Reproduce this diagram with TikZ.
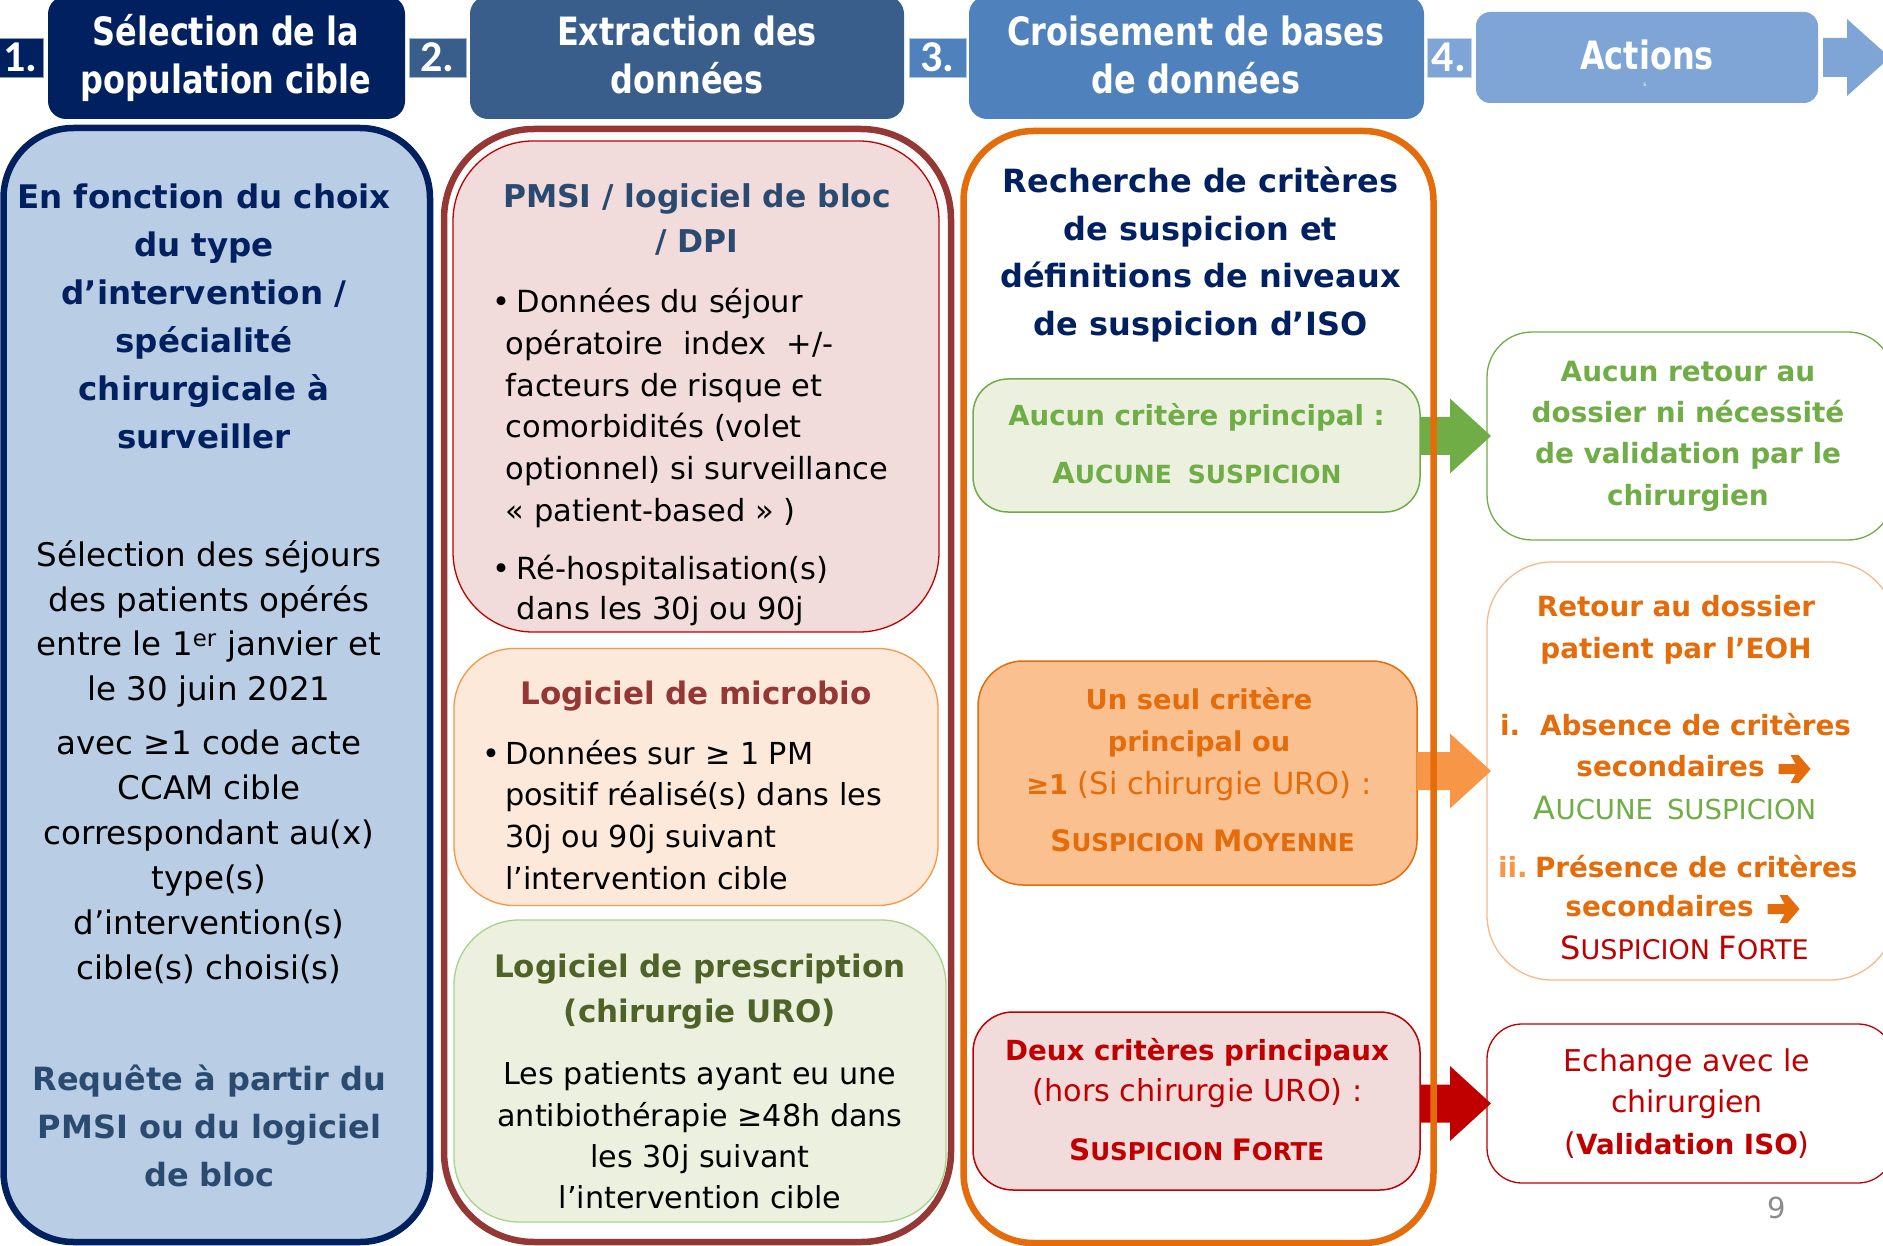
\documentclass[tikz,border=0pt]{standalone}
\usepackage{fontspec}
\setmainfont{DejaVu Sans}
\newfontfamily\hdrfont{DejaVu Sans}[FakeStretch=0.82]
\newfontfamily\numfont{Carlito}
\usetikzlibrary{calc}
\definecolor{navy}{HTML}{002060}
\definecolor{hdrtwo}{HTML}{395E8C}
\definecolor{hdrthree}{HTML}{4F81BD}
\definecolor{hdrfour}{HTML}{7EA5D5}
\definecolor{cfill}{HTML}{B9CDE5}
\definecolor{slate}{HTML}{2A4A70}
\definecolor{brick}{HTML}{953735}
\definecolor{pinkfill}{HTML}{F2DCDB}
\definecolor{redc}{HTML}{C00000}
\definecolor{peachfill}{HTML}{FDE9D9}
\definecolor{peachline}{HTML}{F79646}
\definecolor{greenfill}{HTML}{EBF1DE}
\definecolor{lgreenline}{HTML}{A9D18E}
\definecolor{olive}{HTML}{4F6228}
\definecolor{orangec}{HTML}{E46C0A}
\definecolor{greenc}{HTML}{70AD47}
\definecolor{orangefill}{HTML}{FAC090}
\definecolor{orangearr}{HTML}{F79646}
\definecolor{orangeline}{HTML}{F8B98A}
\definecolor{gray9}{HTML}{8C8C8C}
\newcommand\fsz[2]{\fontsize{#1}{#2}\selectfont}
\newcommand\mysc[2]{{\fontsize{#1}{#1}\selectfont #2}}
\newcommand\blockarrow[3]{\fill[#1] ($(#2.east|-#3.west)+(0,-19)$) -- ($(#3.west)+(-37,-19)$) -- ($(#3.west)+(-37,-37.5)$) -- ($(#3.west)+(4,0)$) -- ($(#3.west)+(-37,37.5)$) -- ($(#3.west)+(-37,19)$) -- ($(#2.east|-#3.west)+(0,19)$) -- cycle;}
\newcommand\textarrow[1]{\fill[orangec] ($(#1.east)+(14,-2)$) -- ($(#1.east)+(31,-2)$) -- ($(#1.east)+(26,-11)$) -- ($(#1.east)+(34,-11)$) -- ($(#1.east)+(46,3)$) -- ($(#1.east)+(34,17)$) -- ($(#1.east)+(26,17)$) -- ($(#1.east)+(31,8)$) -- ($(#1.east)+(14,8)$) -- cycle;}
\tikzset{
  bs/.style={inner sep=0pt, outer sep=0pt},
  sz/.style 2 args={minimum width=#1pt, minimum height=#2pt},
  hdr/.style={bs, fill=#1, rounded corners=18pt},
  numbox/.style={bs, fill=#1, draw=white!55!#1, line width=0.8pt, text=white, font=\numfont\bfseries\fsz{44}{44}},
  hdrtxt/.style={bs, align=center, text=white, font=\hdrfont\bfseries\fsz{39}{48}},
  colbox/.style={bs, line width=6.5pt, draw=#1},
  subbox/.style={bs, line width=1.3pt},
  txt/.style={bs, align=center},
  ltxt/.style={bs, align=left, anchor=west},
}
\begin{document}
\begin{tikzpicture}[x=1pt,y=-1pt]
\useasboundingbox (0,0) rectangle (1883,1246);
\clip (0,0) rectangle (1883,1246);
% ---------- header band
\node[hdr=navy, sz={357}{123}] (h1) at (226.5,57.5) {};
\node[hdr=hdrtwo, sz={434}{123}] (h2) at (687,57.5) {};
\node[hdr=hdrthree, sz={455}{123}] (h3) at (1196.5,57.5) {};
\node[hdr=hdrfour, sz={342}{91}, rounded corners=14pt] (h4) at (1647,57.5) {};
\node[numbox=navy, sz={45}{39}] (n1) at (20.5,57.5) {1.};
\node[numbox=hdrtwo, sz={57}{39}] (n2) at (437.5,57.5) {2.};
\node[numbox=hdrthree, sz={57}{39}] (n3) at (937.5,57.5) {3.};
\node[numbox=hdrfour, sz={44}{39}] (n4) at (1449,57.5) {4.};
\fill[hdrfour] ($(h4.east)+(5,-19.5)$) -- ($(h4.east)+(29,-19.5)$) -- ($(h4.east)+(29,-38.5)$) -- ($(h4.east)+(72,0)$) -- ($(h4.east)+(29,38.5)$) -- ($(h4.east)+(29,19.5)$) -- ($(h4.east)+(5,19.5)$) -- cycle;
\node[hdrtxt] (t1) at (226,57.5) {Sélection de la\\population cible};
\node[hdrtxt] (t2) at (687,54.5) {Extraction des\\données};
\node[hdrtxt] (t3) at (1196,54.5) {Croisement de bases\\de données};
\node[hdrtxt] (t4) at (1647,55) {Actions};
\node[bs, text=white, font=\fsz{6}{6}] (t4s) at (1645,85) {s};
% ---------- column 1
\node[colbox=navy, fill=cfill, rounded corners=70pt, sz={426.5}{1114}] (col1) at (216.75,685) {};
% ---------- column 2
\node[colbox=brick, fill=white, rounded corners=90pt, sz={507}{1113}] (col2) at (697.5,685.5) {};
\node[subbox, fill=pinkfill, draw=redc, rounded corners=80pt, sz={486}{491}] (pmsi) at (696,386.5) {};
\node[subbox, fill=peachfill, draw=peachline, rounded corners=60pt, sz={484}{257}] (micro) at (696,777) {};
\node[subbox, fill=greenfill, draw=lgreenline, rounded corners=65pt, sz={492}{302}] (presc) at (700,1071) {};
% ---------- column 3 boxes
\node[subbox, line width=1.5pt, fill=greenfill, draw=greenc, rounded corners=35pt, sz={447}{133}] (g3) at (1196.5,445.5) {};
\node[subbox, line width=1.5pt, fill=orangefill, draw=orangec, rounded corners=45pt, sz={439}{224}] (o3) at (1197.5,773) {};
\node[subbox, line width=1.5pt, fill=pinkfill, draw=redc, rounded corners=40pt, sz={447}{178}] (r3) at (1196.5,1101) {};
% ---------- column 4 boxes
\node[subbox, fill=white, draw=greenc, rounded corners=45pt, sz={406}{208}] (g4) at (1690,436) {};
\node[subbox, fill=white, draw=orangeline, rounded corners=65pt, sz={408}{418}] (o4) at (1691,771) {};
\node[subbox, fill=white, draw=redc, rounded corners=35pt, sz={406}{159}] (r4) at (1690,1103.5) {};
% ---------- block arrows
\blockarrow{greenc}{g3}{g4}
\blockarrow{orangearr}{o3}{o4}
\blockarrow{redc}{r3}{r4}
% ---------- column 3 frame (over the arrows)
\node[colbox=orangec, rounded corners=70pt, sz={470}{1112}] (col3) at (1198.5,687) {};
% ---------- column 1 texts
\node[txt, text=navy, font=\bfseries\fsz{32.5}{48}] (c1a) at (204,316) {En fonction du choix\\du type\\d’intervention /\\spécialité\\chirurgicale à\\surveiller};
\node[txt, font=\fsz{32.5}{44.7}] (c1b) at (209,624) {Sélection des séjours\\des patients opérés\\entre le 1\textsuperscript{er} janvier et\\le 30 juin 2021};
\node[txt, font=\fsz{32.5}{45}] (c1c) at (209,856.5) {avec ≥1 code acte\\CCAM cible\\correspondant au(x)\\type(s)\\d’intervention(s)\\cible(s) choisi(s)};
\node[txt, text=slate, font=\bfseries\fsz{32}{48}] (c1d) at (209.5,1126) {Requête à partir du\\PMSI ou du logiciel\\de bloc};
% ---------- column 2 texts
\node[txt, text=slate, font=\bfseries\fsz{31.4}{45}] (pmsit) at (697,220) {PMSI / logiciel de bloc\\/ DPI};
\node[ltxt, font=\fsz{30.5}{41.66}] (pmsib1) at (505.7,408) {\hspace*{11pt}\llap{\textbullet\hspace{6pt}}Données du séjour\\opératoire\hspace{20pt}index\hspace{20pt}+/-\\facteurs de risque et\\comorbidités (volet\\optionnel) si surveillance\\« patient-based » )};
\node[ltxt, font=\fsz{30.5}{40}] (pmsib2) at (516.7,590) {\llap{\textbullet\hspace{6pt}}Ré-hospitalisation(s)\\dans les 30j ou 90j};
\node[txt, text=brick, font=\bfseries\fsz{31}{40}] (microt) at (696,696) {Logiciel de microbio};
\node[ltxt, font=\fsz{30.3}{41.9}] (microb) at (505,815) {\llap{\textbullet\hspace{5pt}}Données sur ≥ 1 PM\\positif réalisé(s) dans les\\30j ou 90j suivant\\l’intervention cible};
\node[txt, text=olive, font=\bfseries\fsz{31}{45.5}] (presct) at (700,991.5) {Logiciel de prescription\\(chirurgie URO)};
\node[txt, font=\fsz{30.2}{41.2}] (prescb) at (700,1135.5) {Les patients ayant eu une\\antibiothérapie ≥48h dans\\les 30j suivant\\l’intervention cible};
% ---------- column 3 texts
\node[txt, text=navy, font=\bfseries\fsz{32}{47.7}] (c3t) at (1200.5,254.5) {Recherche de critères\\de suspicion et\\définitions de niveaux\\de suspicion d’ISO};
\node[txt, text=greenc, font=\bfseries\fsz{27.6}{30}] (g3a) at (1196.5,417) {Aucun critère principal :};
\node[txt, text=greenc, font=\bfseries] (g3b) at (1197,473) {\mysc{29}{A}\mysc{25}{UCUNE\hspace{16pt}SUSPICION}};
\node[txt, text=orangec, font=\fsz{30.5}{42.5}] (o3a) at (1199,744) {{\bfseries\fsz{27.3}{42.5}Un seul critère}\\{\bfseries\fsz{27.3}{42.5}principal ou}\\{\bfseries\fsz{27.3}{42.5}≥1} (Si chirurgie\hspace{10pt}URO) :};
\node[txt, text=orangec, font=\bfseries] (o3b) at (1202.5,841) {\mysc{29.5}{S}\mysc{24.5}{USPICION }\mysc{29.5}{M}\mysc{24.5}{OYENNE}};
\node[txt, text=redc, font=\bfseries\fsz{27.7}{41}] (r3a) at (1197,1052) {Deux critères principaux};
\node[txt, text=redc, font=\fsz{30.3}{41}] (r3b) at (1197.5,1093) {(hors chirurgie URO) :};
\node[txt, text=redc, font=\bfseries] (r3c) at (1196.5,1150) {\mysc{29.5}{S}\mysc{24.5}{USPICION }\mysc{29.5}{F}\mysc{24.5}{ORTE}};
% ---------- column 4 texts
\node[txt, text=greenc, font=\bfseries\fsz{27.9}{41.3}] (g4t) at (1688,436) {Aucun retour au\\dossier ni nécessité\\de validation par le\\chirurgien};
\node[txt, text=orangec, font=\bfseries\fsz{27.8}{42}] (o4t) at (1676,630) {Retour au dossier\\patient par l’EOH};
\node[bs, anchor=base west, text=orangec, font=\bfseries\fsz{27.8}{30}] (o4i) at (1500,735) {i.};
\node[bs, anchor=base west, text=orangec, font=\bfseries\fsz{27.8}{30}] (o4ia) at (1540,735) {Absence de critères};
\node[txt, text=orangec, font=\bfseries\fsz{27.8}{30}] (o4ib) at (1670.5,766) {secondaires};
\node[txt, text=greenc] (o4ic) at (1675,808) {\mysc{32}{A}\mysc{27.5}{UCUNE\hspace{14pt}SUSPICION}};
\node[bs, anchor=base west, text=orangearr, font=\bfseries\fsz{27.8}{30}] (o4ii) at (1498,877) {ii.};
\node[bs, anchor=base west, text=orangec, font=\bfseries\fsz{27.8}{30}] (o4iia) at (1535,877) {Présence de critères};
\node[txt, text=orangec, font=\bfseries\fsz{27.8}{30}] (o4iib) at (1659.5,906) {secondaires};
\textarrow{o4ib}
\textarrow{o4iib}
\node[txt, text=redc] (o4iic) at (1684.5,948) {\mysc{32}{S}\mysc{27}{USPICION }\mysc{32}{F}\mysc{27}{ORTE}};
\node[txt, text=redc, font=\fsz{30}{41.5}] (r4t) at (1687,1103.3) {Echange avec le\\chirurgien\\({\bfseries\fsz{27.8}{41.5}Validation ISO})};
\node[txt, text=gray9, font=\fsz{29}{29}] (pg) at (1777,1208) {9};
\end{tikzpicture}
\end{document}
